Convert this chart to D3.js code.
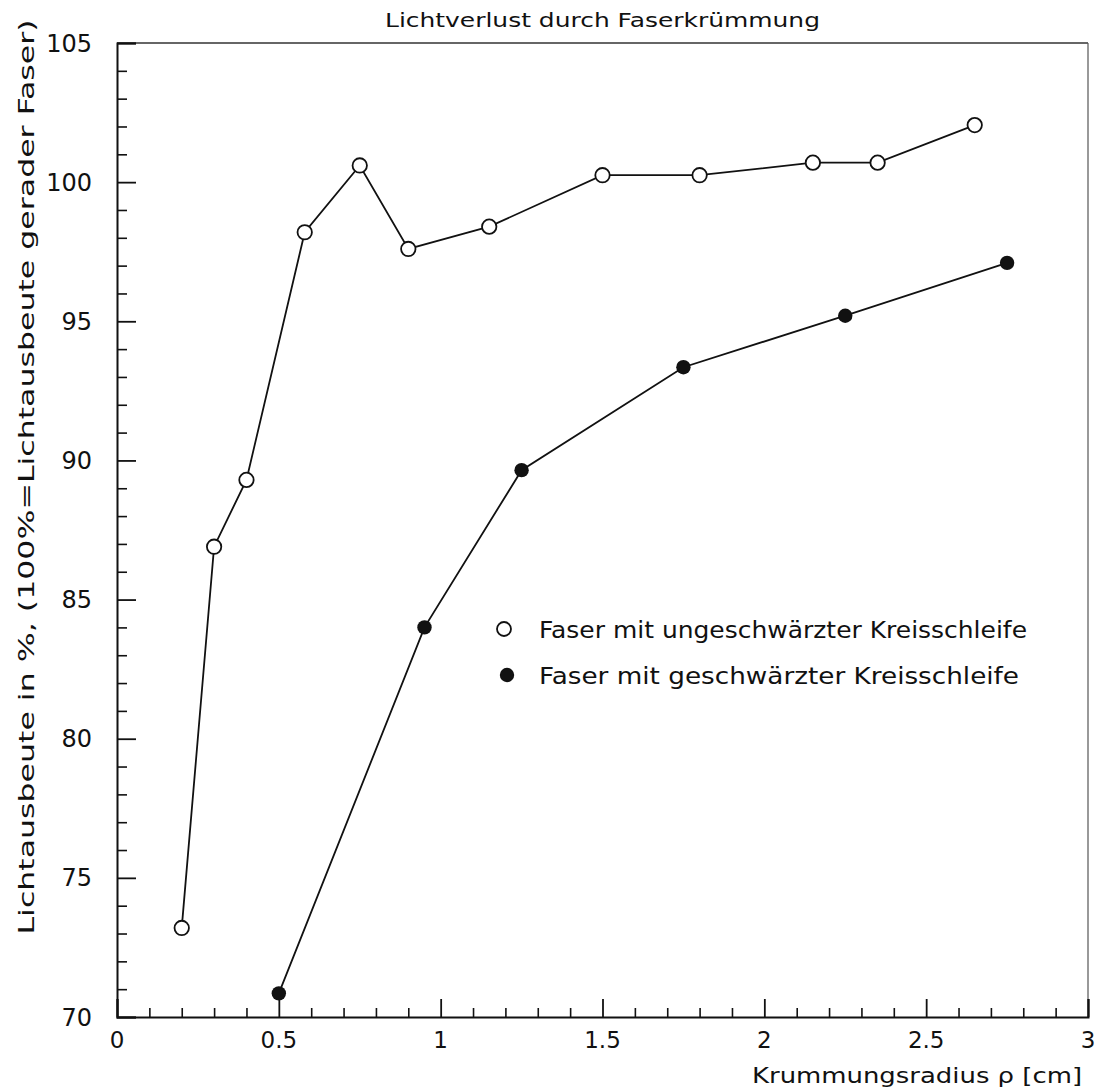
<!DOCTYPE html>
<html>
<head>
<meta charset="utf-8">
<script src="https://cdn.jsdelivr.net/npm/d3@7"></script>
<style>
  html, body { margin: 0; padding: 0; background: #fff; }
  svg { display: block; }
  text { font-family: "DejaVu Sans", "Liberation Sans", sans-serif; fill: #111; }
</style>
</head>
<body>
<svg id="chart" width="1105" height="1087"></svg>
<script>
// Krümmungsradius in cm and relative light yield in %
const radiusOpen   = [0.2, 0.3, 0.4, 0.58, 0.75, 0.9, 1.15, 1.5, 1.8, 2.15, 2.35, 2.65];
const yieldOpen    = [73.2, 86.9, 89.3, 98.2, 100.6, 97.6, 98.4, 100.25, 100.25, 100.7, 100.7, 102.05];
const radiusFilled = [0.5, 0.95, 1.25, 1.75, 2.25, 2.75];
const yieldFilled  = [70.85, 84.0, 89.65, 93.35, 95.2, 97.1];

const xMajorTicks = [0, 0.5, 1, 1.5, 2, 2.5, 3];
const xTickLabels = ["0", "0.5", "1", "1.5", "2", "2.5", "3"];
const yMajorTicks = [70, 75, 80, 85, 90, 95, 100, 105];
const yTickLabels = ["70", "75", "80", "85", "90", "95", "100", "105"];

const titleText  = "Lichtverlust durch Faserkrümmung";
const xAxisLabel = "Krummungsradius \u03C1 [cm]";
const yAxisLabel = "Lichtausbeute in %, (100%=Lichtausbeute gerader Faser)";
const legendLabels = ["Faser mit ungeschwärzter Kreisschleife", "Faser mit geschwärzter Kreisschleife"];

const svg = d3.select("#chart");
const plotL = 117, plotR = 1088, plotT = 43, plotB = 1017;

const x = d3.scaleLinear().domain([0, 3]).range([plotL, plotR]);
const y = d3.scaleLinear().domain([70, 105]).range([plotB, plotT]);

// frame: heavy left/bottom axes, thin top/right border
svg.append("line").attr("x1", plotL).attr("x2", plotR).attr("y1", plotT).attr("y2", plotT)
  .attr("stroke", "#333").attr("stroke-width", 1.3);
svg.append("line").attr("x1", plotR).attr("x2", plotR).attr("y1", plotT).attr("y2", plotB)
  .attr("stroke", "#555").attr("stroke-width", 1.2);

// bottom axis: major ticks every 0.5, minor every 0.1, drawn inward
const xMinor = d3.range(0, 31).map(i => i / 10).filter(v => !xMajorTicks.some(m => Math.abs(m - v) < 1e-9));
const xAxisMinor = d3.axisTop(x).tickValues(xMinor).tickSize(9).tickFormat("");
const xAxisMajor = d3.axisTop(x).tickValues(xMajorTicks).tickSize(18).tickFormat("");
svg.append("g").attr("transform", `translate(0,${plotB})`).call(xAxisMinor)
  .call(g => g.select(".domain").remove())
  .selectAll("line").attr("stroke", "#111").attr("stroke-width", 1.6);
svg.append("g").attr("transform", `translate(0,${plotB})`).call(xAxisMajor)
  .call(g => g.select(".domain").attr("stroke", "#111").attr("stroke-width", 2))
  .selectAll("line").attr("stroke", "#111").attr("stroke-width", 1.8);

svg.append("g").selectAll("text").data(xMajorTicks).join("text")
  .attr("x", d => x(d)).attr("y", plotB + 31)
  .attr("text-anchor", "middle").attr("font-size", 23)
  .text((d, i) => xTickLabels[i]);

// left axis: major ticks every 5, minor every 1, drawn inward
const yMinor = d3.range(70, 106).filter(v => v % 5 !== 0);
const yAxisMinor = d3.axisRight(y).tickValues(yMinor).tickSize(10).tickFormat("");
const yAxisMajor = d3.axisRight(y).tickValues(yMajorTicks).tickSize(19).tickFormat("");
svg.append("g").attr("transform", `translate(${plotL},0)`).call(yAxisMinor)
  .call(g => g.select(".domain").remove())
  .selectAll("line").attr("stroke", "#111").attr("stroke-width", 1.6);
svg.append("g").attr("transform", `translate(${plotL},0)`).call(yAxisMajor)
  .call(g => g.select(".domain").attr("stroke", "#111").attr("stroke-width", 2))
  .selectAll("line").attr("stroke", "#111").attr("stroke-width", 1.8);

svg.append("g").selectAll("text").data(yMajorTicks).join("text")
  .attr("x", 92).attr("y", d => y(d) + 8.5)
  .attr("text-anchor", "end").attr("font-size", 24)
  .text((d, i) => yTickLabels[i]);

// titles
svg.append("text").attr("x", (plotL + plotR) / 2).attr("y", 27)
  .attr("text-anchor", "middle").attr("font-size", 19)
  .attr("textLength", 435).attr("lengthAdjust", "spacingAndGlyphs")
  .text(titleText);

svg.append("text").attr("x", 1082).attr("y", 1083)
  .attr("text-anchor", "end").attr("font-size", 21)
  .attr("textLength", 330).attr("lengthAdjust", "spacingAndGlyphs")
  .text(xAxisLabel);

svg.append("text")
  .attr("transform", `translate(34,${477}) rotate(-90)`)
  .attr("text-anchor", "middle").attr("font-size", 22)
  .attr("textLength", 915).attr("lengthAdjust", "spacingAndGlyphs")
  .text(yAxisLabel);

// series
const line = d3.line().x(d => x(d[0])).y(d => y(d[1]));
const openData = radiusOpen.map((r, i) => [r, yieldOpen[i]]);
const filledData = radiusFilled.map((r, i) => [r, yieldFilled[i]]);

svg.append("path").datum(openData).attr("d", line)
  .attr("fill", "none").attr("stroke", "#111").attr("stroke-width", 1.8);
svg.append("path").datum(filledData).attr("d", line)
  .attr("fill", "none").attr("stroke", "#111").attr("stroke-width", 1.8);

svg.append("g").selectAll("circle").data(openData).join("circle")
  .attr("cx", d => x(d[0])).attr("cy", d => y(d[1])).attr("r", 7.2)
  .attr("fill", "#fff").attr("stroke", "#111").attr("stroke-width", 1.8);
svg.append("g").selectAll("circle").data(filledData).join("circle")
  .attr("cx", d => x(d[0])).attr("cy", d => y(d[1])).attr("r", 7.2)
  .attr("fill", "#111");

// legend
const legend = svg.append("g");
legend.append("circle").attr("cx", 504).attr("cy", 629).attr("r", 7)
  .attr("fill", "#fff").attr("stroke", "#111").attr("stroke-width", 1.8);
legend.append("circle").attr("cx", 507).attr("cy", 675).attr("r", 7.2)
  .attr("fill", "#111");
legend.append("text").attr("x", 539).attr("y", 638).attr("font-size", 23)
  .attr("textLength", 488).attr("lengthAdjust", "spacingAndGlyphs")
  .text(legendLabels[0]);
legend.append("text").attr("x", 539).attr("y", 684).attr("font-size", 23)
  .attr("textLength", 480).attr("lengthAdjust", "spacingAndGlyphs")
  .text(legendLabels[1]);
</script>
</body>
</html>
